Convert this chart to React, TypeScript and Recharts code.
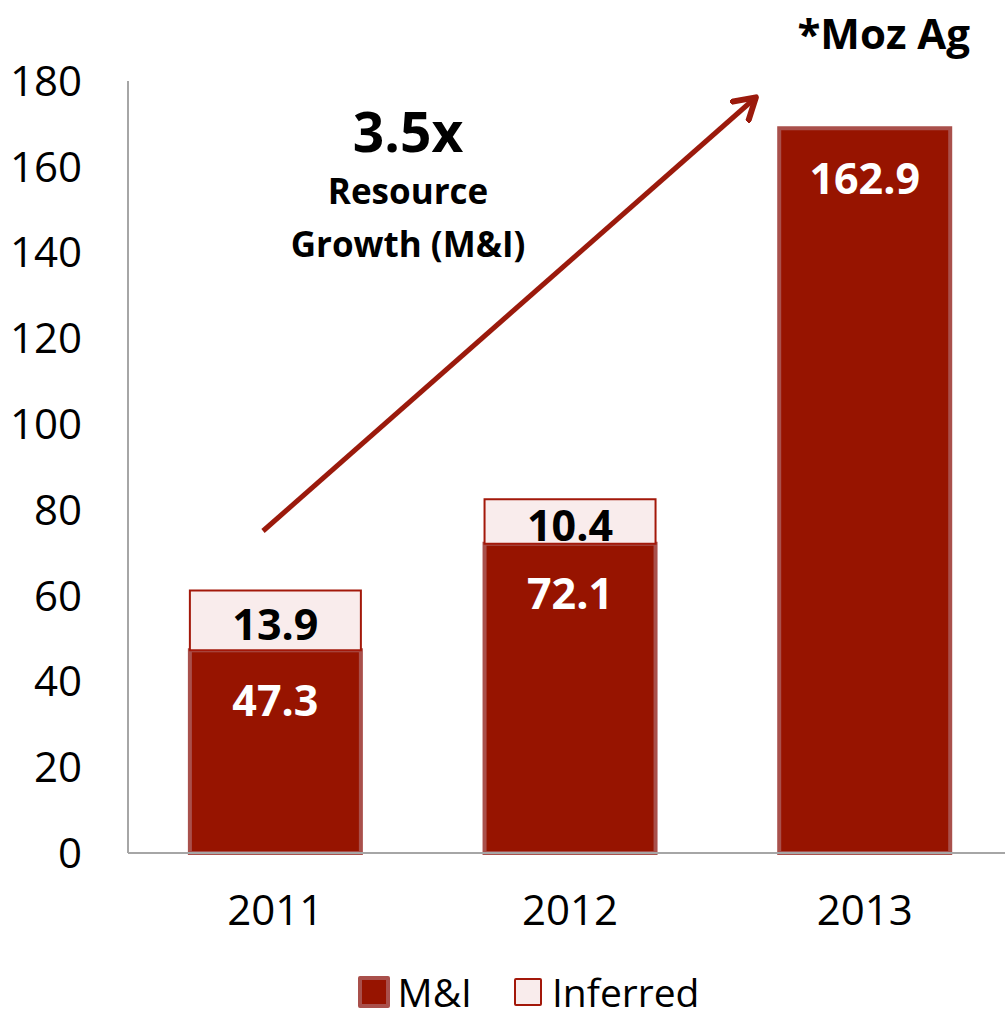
import React from 'react'
import { BarChart, Bar, XAxis, YAxis, LabelList } from 'recharts'

const years = ['2011', '2012', '2013']
// bar heights as drawn in the picture (2013 bar reaches ~169 on the axis)
const miValues = [47.3, 72.1, 169]
const miLabels = ['47.3', '72.1', '162.9']
const inferredValues = [13.9, 10.4, 0]
const yTicks = [0, 20, 40, 60, 80, 100, 120, 140, 160, 180]

const FONT = '"Open Sans", "Liberation Sans", sans-serif'
const DARK_RED = '#971400'

const data = years.map((year, i) => ({
  year,
  mi: miValues[i],
  miLabel: miLabels[i],
  inferred: inferredValues[i],
}))

const MiLabel = (props: any) => {
  const { x, y, width, value } = props
  return (
    <text
      x={x + width / 2}
      y={y + 49}
      textAnchor="middle"
      dominantBaseline="central"
      fill="#fff"
      fontFamily={FONT}
      fontWeight={700}
      fontSize={43}
    >
      {value}
    </text>
  )
}

const InferredLabel = (props: any) => {
  const { x, y, width, height, value } = props
  if (!value) return null
  return (
    <text
      x={x + width / 2}
      y={y + height / 2 + 3}
      textAnchor="middle"
      dominantBaseline="central"
      fill="#000"
      fontFamily={FONT}
      fontWeight={700}
      fontSize={43}
    >
      {value}
    </text>
  )
}

export default function App() {
  return (
    <div style={{ position: 'absolute', left: 0, top: 0, width: 1005, height: 1021, overflow: 'hidden', background: '#fff', fontFamily: FONT }}>
      <BarChart
        width={1012}
        height={1021}
        data={data}
        margin={{ top: 81, right: 0, left: 0, bottom: 138 }}
        barCategoryGap="21%"
      >
        <YAxis
          width={128}
          domain={[0, 180]}
          ticks={yTicks}
          interval={0}
          tickLine={false}
          axisLine={{ stroke: '#a6a6a6', strokeWidth: 2 }}
          tickMargin={40}
          tick={{ fontSize: 42, fill: '#000', fontFamily: FONT }}
        />
        <XAxis
          dataKey="year"
          height={30}
          tickLine={false}
          axisLine={{ stroke: '#a6a6a6', strokeWidth: 2 }}
          tickMargin={36}
          tick={{ fontSize: 42, fill: '#000', fontFamily: FONT }}
        />
        <Bar dataKey="mi" stackId="a" fill={DARK_RED} stroke="#a9504b" strokeWidth={4} isAnimationActive={false}>
          <LabelList dataKey="miLabel" content={MiLabel} />
        </Bar>
        <Bar dataKey="inferred" stackId="a" fill="#f9ecec" stroke="#a3180a" strokeWidth={2} isAnimationActive={false}>
          <LabelList dataKey="inferred" content={InferredLabel} />
        </Bar>
      </BarChart>

      <svg width={1005} height={1021} style={{ position: 'absolute', left: 0, top: 0, pointerEvents: 'none' }}>
        <defs>
          <marker id="ah" markerWidth="6" markerHeight="6" refX="4" refY="3" orient="auto" markerUnits="strokeWidth">
            <path d="M0,0.3 L4.5,3 L0,5.7" fill="none" stroke="#9b1a0c" strokeWidth={1.2} strokeLinecap="round" strokeLinejoin="round" />
          </marker>
        </defs>
        <line x1={263} y1={531} x2={754} y2={99} stroke="#9b1a0c" strokeWidth={5} markerEnd="url(#ah)" />
        <text x={408} y={152} textAnchor="middle" fontFamily={FONT} fontWeight={700} fontSize={55} fill="#000">3.5x</text>
        <text x={408} y={204} textAnchor="middle" fontFamily={FONT} fontWeight={700} fontSize={35} fill="#000">Resource</text>
        <text x={408} y={257} textAnchor="middle" fontFamily={FONT} fontWeight={700} fontSize={35} fill="#000">Growth (M&amp;I)</text>
        <text x={970} y={49} textAnchor="end" fontFamily={FONT} fontWeight={700} fontSize={42} fill="#000">*Moz Ag</text>
      </svg>

      <div style={{ position: 'absolute', top: 972, left: 0, width: 1005, height: 40, lineHeight: '40px', paddingLeft: 52, boxSizing: 'border-box', display: 'flex', justifyContent: 'center', alignItems: 'center', fontSize: 39, fontFamily: FONT, color: '#000' }}>
        <span style={{ display: 'inline-block', width: 24, height: 24, background: DARK_RED, border: '4px solid #a9504b', borderRadius: 2, marginRight: 8 }} />
        <span style={{ marginRight: 42 }}>M&amp;I</span>
        <span style={{ display: 'inline-block', width: 24, height: 24, background: '#f9ecec', border: '2px solid #a3180a', borderRadius: 2, marginRight: 10 }} />
        <span>Inferred</span>
      </div>
    </div>
  )
}
